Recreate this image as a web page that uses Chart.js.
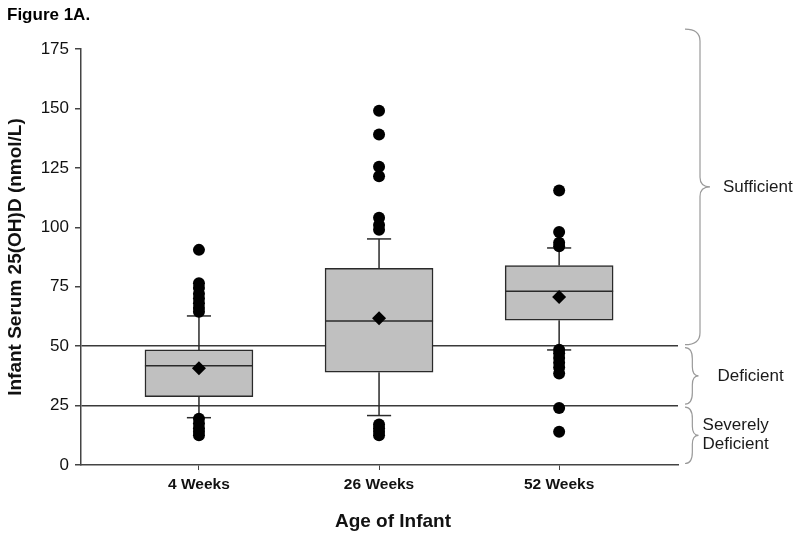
<!DOCTYPE html>
<html>
<head>
<meta charset="utf-8">
<script src="https://cdn.jsdelivr.net/npm/chart.js@4/dist/chart.umd.min.js"></script>
<style>
  html, body { margin: 0; padding: 0; background: #fff; }
  #wrap { width: 800px; height: 538px; }
</style>
</head>
<body>
<div id="wrap"><canvas id="c" width="800" height="538"></canvas></div>
<script>
// ---- data ----
const categories = ["4 Weeks", "26 Weeks", "52 Weeks"];
const catPos = [1, 2, 3];
const q1 = [28.7, 39.0, 60.9];
const median = [41.8, 60.6, 73.1];
const q3 = [48.4, 82.7, 83.9];
const whiskerLow = [19.9, 20.8, 48.4];
const whiskerHigh = [62.7, 95.1, 91.3];
const means = [40.7, 61.7, 70.7];
const outliers4w = [90.5, 76.5, 74.5, 72, 70, 68, 66, 64.5, 19.5, 17.5, 15.5, 14, 12.5];
const outliers26w = [149, 139, 125.5, 121.5, 104, 101, 99, 17, 15.5, 14, 12.5];
const outliers52w = [115.5, 98, 93.5, 92, 48.5, 47, 45, 43, 41, 38.5, 24, 14];
const yTicks = [0, 25, 50, 75, 100, 125, 150, 175];
const thresholds = [25, 50];
const zones = [
  { label: ["Sufficient"], from: 50, to: 184 },
  { label: ["Deficient"], from: 25, to: 50 },
  { label: ["Severely", "Deficient"], from: 0, to: 25 }
];

// ---- build datasets ----
const FONT = "Arial, 'Liberation Sans', sans-serif";
const boxHalf = 0.3, capHalf = 0.067;
const datasets = [];

datasets.push({
  type: 'bar',
  data: catPos.map((x, i) => ({ x: x, y: [q1[i], q3[i]] })),
  backgroundColor: '#c0c0c0',
  borderColor: '#2a2a2a',
  borderWidth: 1.5,
  borderSkipped: false,
  barThickness: 108,
  grouped: false,
  order: 5
});

function seg(x1, y1, x2, y2, order) {
  datasets.push({
    type: 'line',
    data: [{ x: x1, y: y1 }, { x: x2, y: y2 }],
    borderColor: '#2a2a2a',
    borderWidth: 1.5,
    pointRadius: 0,
    fill: false,
    order: order
  });
}
catPos.forEach((x, i) => {
  seg(x - boxHalf, median[i], x + boxHalf, median[i], 3);
  seg(x, q3[i], x, whiskerHigh[i], 4);
  seg(x, q1[i], x, whiskerLow[i], 4);
  seg(x - capHalf, whiskerHigh[i], x + capHalf, whiskerHigh[i], 4);
  seg(x - capHalf, whiskerLow[i], x + capHalf, whiskerLow[i], 4);
});

const allOutliers = [outliers4w, outliers26w, outliers52w];
datasets.push({
  type: 'scatter',
  data: allOutliers.flatMap((arr, i) => arr.map(v => ({ x: catPos[i], y: v }))),
  backgroundColor: '#000',
  borderWidth: 0,
  pointRadius: 6,
  pointStyle: 'circle',
  order: 1
});
datasets.push({
  type: 'scatter',
  data: catPos.map((x, i) => ({ x: x, y: means[i] })),
  backgroundColor: '#000',
  borderWidth: 0,
  pointRadius: 7,
  pointStyle: 'rectRot',
  order: 0
});

// ---- decorations plugin ----
const deco = {
  id: 'deco',
  afterDraw(chart) {
    const ctx = chart.ctx;
    const y = chart.scales.y;
    const area = chart.chartArea;
    ctx.save();
    ctx.fillStyle = '#000';
    ctx.font = 'bold 17px ' + FONT;
    ctx.textAlign = 'left';
    ctx.textBaseline = 'alphabetic';
    ctx.fillText('Figure 1A.', 7, 20);
    ctx.font = 'bold 19px ' + FONT;
    ctx.textAlign = 'center';
    ctx.textBaseline = 'middle';
    ctx.fillStyle = '#111';
    ctx.fillText('Age of Infant', 393, 522);
    ctx.strokeStyle = '#9a9a9a';
    ctx.lineWidth = 1.2;
    zones.forEach(z => {
      const top = y.getPixelForValue(z.to) + 1.5;
      const bot = y.getPixelForValue(z.from) - 1.5;
      const h = bot - top;
      const endX = area.right + 7;
      const curl = Math.min(15, h * 0.13);
      const tip = Math.min(10, h * 0.11);
      const sx = endX + curl;
      const mid = (top + bot) / 2;
      const r = Math.min(12, h / 5);
      ctx.beginPath();
      ctx.moveTo(endX, top);
      ctx.quadraticCurveTo(sx, top, sx, top + r);
      ctx.lineTo(sx, mid - r * 0.8);
      ctx.quadraticCurveTo(sx, mid, sx + tip, mid);
      ctx.quadraticCurveTo(sx, mid, sx, mid + r * 0.8);
      ctx.lineTo(sx, bot - r);
      ctx.quadraticCurveTo(sx, bot, endX, bot);
      ctx.stroke();
      ctx.fillStyle = '#1a1a1a';
      ctx.font = '17px ' + FONT;
      ctx.textAlign = 'left';
      ctx.textBaseline = 'middle';
      const lx = sx + tip + (z.label.length > 1 ? 4 : (h > 100 ? 13 : 19));
      const lh = 19;
      z.label.forEach((t, k) => {
        ctx.fillText(t, lx, mid + (k - (z.label.length - 1) / 2) * lh);
      });
    });
    ctx.restore();
  }
};

new Chart(document.getElementById('c'), {
  type: 'scatter',
  data: { datasets: datasets },
  plugins: [deco],
  options: {
    responsive: false,
    animation: false,
    layout: { padding: { top: 49, right: 122, left: 0, bottom: 0 } },
    plugins: { legend: { display: false }, tooltip: { enabled: false } },
    scales: {
      x: {
        type: 'linear',
        offset: false,
        min: 0.345,
        max: 3.66,
        afterBuildTicks: s => { s.ticks = catPos.map(v => ({ value: v })); },
        afterFit: s => { s.height = 73; },
        grid: { offset: false, drawOnChartArea: false, drawTicks: true, tickLength: 5, color: '#444', tickColor: '#444' },
        border: { color: '#444', width: 1.5 },
        ticks: {
          callback: (v, i) => categories[i],
          font: { family: FONT, size: 15.5, weight: 'bold' },
          color: '#111',
          padding: 5,
          maxRotation: 0
        },
        title: { display: false }
      },
      y: {
        type: 'linear',
        min: 0,
        max: 175,
        afterBuildTicks: s => { s.ticks = yTicks.map(v => ({ value: v })); },
        afterFit: s => { s.width = 81; },
        grid: {
          drawOnChartArea: true,
          drawTicks: true,
          tickLength: 6,
          lineWidth: 1.5,
          color: c => (c.tick && thresholds.includes(c.tick.value)) ? '#3a3a3a' : 'rgba(0,0,0,0)',
          tickColor: '#444'
        },
        border: { color: '#444', width: 1.5 },
        ticks: {
          font: { family: FONT, size: 17 },
          color: '#111',
          padding: 6
        },
        title: {
          display: true,
          text: 'Infant Serum 25(OH)D (nmol/L)',
          font: { family: FONT, size: 19, weight: 'bold' },
          color: '#111',
          padding: { top: 4, bottom: 0 }
        }
      }
    }
  }
});
</script>
</body>
</html>
